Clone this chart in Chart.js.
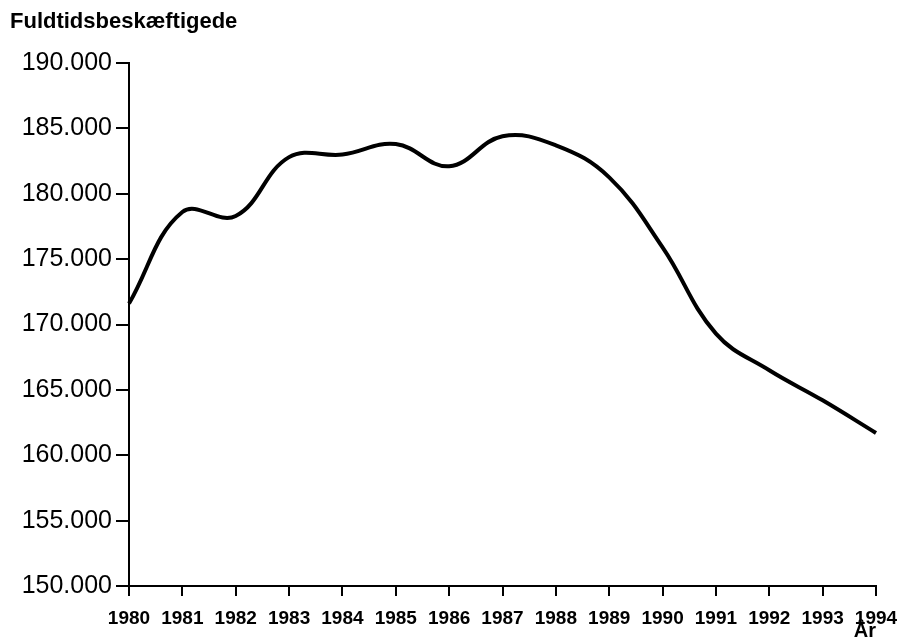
<!DOCTYPE html>
<html lang="da">
<head>
  <meta charset="UTF-8">
  <title>Fuldtidsbeskæftigede 1980-1994</title>
  <script src="https://cdn.jsdelivr.net/npm/chart.js"></script>
  <style>
    body { margin: 0; padding: 0; background: #ffffff; }
    .wrap { width: 901px; height: 640px; position: relative; }
  </style>
</head>
<body>
  <div class="wrap">
    <canvas id="chart"></canvas>
  </div>

  <script>
    // Data
    const years = ['1980', '1981', '1982', '1983', '1984', '1985', '1986', '1987',
                   '1988', '1989', '1990', '1991', '1992', '1993', '1994'];
    const employed = [171600, 178600, 178300, 182800, 183000, 183800, 182100, 184400,
                      183700, 181250, 175900, 169300, 166500, 164200, 161700];
    const yMin = 150000;
    const yMax = 190000;
    const yStep = 5000;

    // 190000 -> "190.000"
    const fmt = (v) => String(v).replace(/\B(?=(\d{3})+(?!\d))/g, '.');

    new Chart(document.getElementById('chart').getContext('2d'), {
      type: 'line',
      data: {
        labels: years,
        datasets: [{
          label: 'Fuldtidsbeskæftigede',
          data: employed,
          borderColor: '#000',
          borderWidth: 4,
          tension: 0.4,
          pointRadius: 0,
          fill: false
        }]
      },
      options: {
        responsive: true,
        maintainAspectRatio: false,
        animation: false,
        layout: { padding: { left: 10, top: 9, right: 25, bottom: 0 } },
        plugins: {
          legend: { display: false },
          tooltip: { enabled: false },
          title: {
            display: true,
            text: 'Fuldtidsbeskæftigede',
            align: 'start',
            color: '#000',
            font: { family: 'Liberation Sans', size: 22, weight: 'bold' },
            padding: { top: 0, bottom: 27.6 }
          }
        },
        scales: {
          x: {
            offset: false,
            grid: { drawOnChartArea: false, drawTicks: true, tickLength: 10, color: '#000', lineWidth: 2 },
            border: { color: '#000', width: 2 },
            ticks: {
              color: '#000',
              maxRotation: 0,
              autoSkip: false,
              padding: 11,
              font: { family: 'Liberation Sans', size: 19, weight: 'bold' }
            },
            title: {
              display: true,
              text: 'År',
              align: 'end',
              color: '#000',
              padding: { top: 0, bottom: -3 },
              font: { family: 'Liberation Sans', size: 20, weight: 'bold' }
            },
            afterFit: (scale) => {
              scale.height = 54;
              scale.paddingLeft = 0;
              scale.paddingRight = 0;
            }
          },
          y: {
            min: yMin,
            max: yMax,
            grid: { drawOnChartArea: false, drawTicks: true, tickLength: 13, color: '#000', lineWidth: 2 },
            border: { color: '#000', width: 2 },
            ticks: {
              stepSize: yStep,
              color: '#000',
              padding: 4,
              font: { family: 'Liberation Sans', size: 25 },
              callback: (v) => fmt(v)
            },
            afterFit: (scale) => { scale.width = 119; }
          }
        }
      }
    });
  </script>
</body>
</html>
